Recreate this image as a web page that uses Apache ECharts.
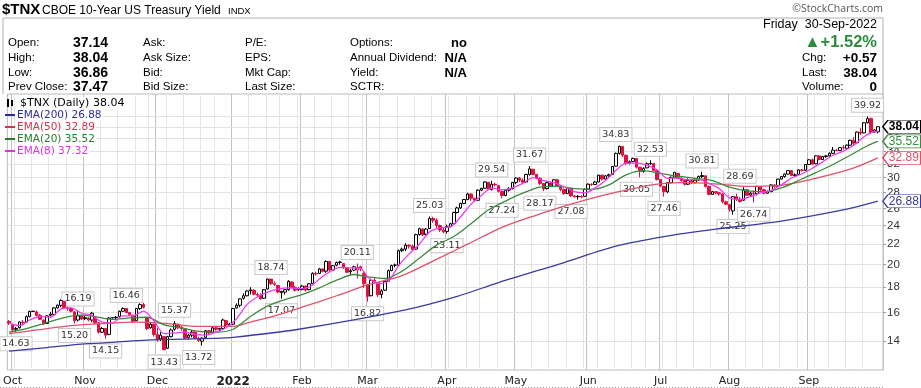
<!DOCTYPE html>
<html><head><meta charset="utf-8">
<script src="https://cdn.jsdelivr.net/npm/echarts@6/dist/echarts.min.js"></script>
<style>html,body{margin:0;padding:0;background:#fff}#c{width:921px;height:388px}</style>
</head><body><div id="c"></div>
<script>
// ---------- categories (trading days) ----------
const holidays = ['2021-11-25','2021-12-24','2022-01-17','2022-02-21','2022-04-15','2022-05-30','2022-06-20','2022-07-04','2022-09-05'];
const firstDay = '2021-09-30', lastDay = '2022-09-30';
function tradingDays(a, b) {
  const out = []; let d = new Date(a + 'T00:00:00Z'); const e = new Date(b + 'T00:00:00Z');
  while (d <= e) { const s = d.toISOString().slice(0,10); const w = d.getUTCDay();
    if (w !== 0 && w !== 6 && holidays.indexOf(s) < 0) out.push(s); d = new Date(d.getTime() + 864e5); }
  return out;
}
const dates = tradingDays(firstDay, lastDay);
const categories = dates.concat(['']);

// ---------- OHLC: [open, close, low, high] ----------
const ohlcSep21 = [[15.35,15.23,15.10,15.45]];
const ohlcOct21 = [[15.10,14.75,14.70,15.15],[14.80,14.85,14.63,14.95],[14.90,15.31,14.85,15.35],[15.30,15.25,15.05,15.45],[15.30,15.70,15.28,15.78],[15.70,16.08,15.65,16.14],[16.08,16.10,16.05,16.12],[16.05,15.78,15.70,16.15],[15.80,15.50,15.45,15.90],[15.45,15.16,15.10,15.50],[15.20,15.75,15.18,15.80],[15.80,15.88,15.72,16.05],[15.85,16.35,15.80,16.40],[16.35,16.56,16.30,16.60],[16.55,16.92,16.40,17.02],[16.85,16.35,16.25,16.90],[16.35,16.30,16.12,16.45],[16.30,16.10,16.00,16.40],[16.05,15.40,15.20,16.10],[15.45,15.75,15.35,16.19],[15.75,15.52,15.45,15.85]];
const ohlcNov21 = [[15.55,15.62,15.45,15.75],[15.60,15.45,15.35,15.65],[15.45,15.95,15.30,16.05],[15.60,15.25,15.15,15.70],[15.25,14.60,14.50,15.30],[14.60,14.85,14.55,14.95],[14.85,14.40,14.15,14.90],[14.45,15.60,14.40,15.65],[15.60,15.62,15.58,15.64],[15.62,15.65,15.45,15.75],[15.70,16.10,15.65,16.15],[16.10,16.30,16.05,16.40],[16.30,16.00,15.95,16.35],[16.00,15.85,15.75,16.05],[15.80,15.35,15.25,15.85],[15.40,16.30,15.40,16.35],[16.30,16.60,16.20,16.70],[16.60,16.40,16.30,16.75],[15.60,14.85,14.75,15.65],[14.90,15.15,14.85,15.30],[15.15,14.45,14.30,15.20]];
const ohlcDec21 = [[14.45,14.10,13.95,14.90],[14.15,14.40,14.00,14.60],[14.30,13.45,13.43,14.35],[13.55,14.30,13.50,14.35],[14.30,14.75,14.25,14.85],[14.80,15.20,14.70,15.37],[15.15,14.90,14.80,15.20],[14.95,14.85,14.70,15.05],[14.80,14.20,14.15,14.85],[14.25,14.40,14.10,14.50],[14.40,14.60,14.25,14.75],[14.60,14.20,14.15,14.75],[14.15,14.05,13.95,14.30],[14.00,14.20,13.72,14.25],[14.25,14.70,14.20,14.75],[14.70,14.55,14.45,14.75],[14.55,14.90,14.50,14.95],[14.90,14.80,14.70,14.95],[14.80,14.85,14.65,14.90],[14.85,15.45,14.80,15.55],[15.40,15.10,15.00,15.45],[15.15,15.10,14.95,15.25]];
const ohlcJan22 = [[15.15,16.30,15.10,16.35],[16.35,16.55,16.30,16.70],[16.55,17.05,16.40,17.10],[17.10,17.30,17.00,17.50],[17.30,17.69,17.25,17.75],[17.70,17.78,17.40,18.00],[17.75,17.42,17.35,17.85],[17.40,17.35,17.20,17.55],[17.35,17.05,17.00,17.50],[17.10,17.80,17.05,17.85],[17.85,18.70,17.80,18.74],[18.70,18.30,18.20,18.70],[18.30,18.25,18.10,18.50],[18.15,17.60,17.50,18.20],[17.55,17.65,17.07,17.70],[17.60,17.80,17.40,17.85],[17.80,18.50,17.70,18.60],[18.45,18.00,17.90,18.50],[18.00,17.75,17.65,18.10],[17.80,17.80,17.70,18.00]];
const ohlcFeb22 = [[17.80,18.10,17.75,18.20],[18.10,17.75,17.65,18.15],[17.80,18.30,17.75,18.35],[18.30,19.20,18.25,19.30],[19.20,19.15,19.00,19.35],[19.20,19.60,19.15,19.70],[19.60,19.40,19.30,19.65],[19.40,20.30,19.25,20.40],[20.30,19.50,19.30,20.35],[19.50,19.90,19.40,19.95],[19.95,20.20,19.85,20.30],[20.20,20.25,20.00,20.35],[20.10,19.70,19.60,20.15],[19.70,19.30,19.25,19.75],[19.35,19.45,19.10,19.60],[19.50,19.80,19.40,19.90],[19.50,19.75,18.75,20.11],[19.80,19.60,19.40,19.90],[19.20,18.30,17.95,19.30]];
const ohlcMar22 = [[18.20,17.25,16.82,18.25],[17.30,18.60,17.25,18.65],[18.60,18.50,18.30,18.80],[18.40,17.40,17.20,18.45],[17.40,17.70,17.10,17.85],[17.75,18.50,17.70,18.60],[18.50,19.45,18.45,19.55],[19.45,19.90,19.40,20.00],[19.95,19.95,19.75,20.10],[19.95,21.35,19.90,21.45],[21.35,21.50,21.20,21.65],[21.50,21.90,21.30,22.10],[21.90,21.80,21.55,22.00],[21.80,21.45,21.35,21.95],[21.50,23.00,21.45,23.10],[23.00,23.65,22.90,23.75],[23.60,23.00,22.85,23.70],[23.05,23.60,22.95,23.70],[23.65,24.80,23.60,25.03],[24.80,24.60,24.30,25.00],[24.60,24.00,23.70,24.80],[24.00,23.50,23.30,24.10],[23.50,23.30,23.15,23.80]];
const ohlcApr22 = [[23.35,23.90,23.11,24.10],[23.90,24.20,23.80,24.30],[24.20,25.50,24.10,25.60],[25.50,26.05,25.40,26.20],[26.05,26.60,25.95,26.70],[26.60,27.10,26.50,27.15],[27.10,27.80,27.00,27.95],[27.80,27.25,26.90,27.90],[27.25,27.00,26.80,27.30],[27.00,28.30,26.95,28.40],[28.30,28.55,28.15,28.60],[28.55,29.40,28.50,29.50],[29.35,28.40,28.30,29.40],[28.40,29.10,28.25,29.54],[29.10,29.00,28.80,29.30],[28.90,28.15,28.00,28.95],[28.15,27.60,27.24,28.20],[27.60,28.30,27.50,28.40],[28.30,28.50,28.10,28.70],[28.50,29.35,28.40,29.40]];
const ohlcMay22 = [[29.35,29.95,29.10,30.05],[29.95,29.65,29.40,30.10],[29.65,29.35,29.20,29.90],[29.40,30.45,29.35,30.55],[30.45,31.25,30.30,31.67],[31.20,30.45,30.35,31.25],[30.45,29.90,29.75,30.50],[29.90,29.20,28.95,30.05],[29.20,28.45,28.17,29.25],[28.50,29.30,28.40,29.40],[29.30,28.80,28.70,29.35],[28.80,29.70,28.75,29.80],[29.70,28.85,28.75,29.75],[28.85,28.40,28.15,28.95],[28.40,27.85,27.70,28.50],[27.85,28.55,27.80,28.65],[28.55,27.55,27.40,28.60],[27.55,27.45,27.30,27.65],[27.45,27.50,27.08,27.65],[27.50,27.40,27.25,27.60],[27.50,28.40,27.45,28.50]];
const ohlcJun22 = [[28.45,29.10,28.40,29.20],[29.10,29.05,28.85,29.20],[29.05,29.40,29.00,29.55],[29.40,30.35,29.35,30.40],[30.35,29.80,29.60,30.40],[29.80,30.25,29.75,30.35],[30.25,30.40,30.10,30.55],[30.45,31.60,30.40,31.70],[31.65,33.60,31.60,33.70],[33.60,34.70,33.40,34.83],[34.70,33.30,33.00,34.75],[33.30,32.10,31.80,33.40],[32.10,32.30,31.90,32.50],[32.35,32.80,32.20,32.95],[32.80,31.50,31.30,32.85],[31.50,30.90,30.05,31.55],[30.90,31.30,30.70,31.50],[31.40,32.00,31.35,32.20],[32.00,32.05,31.85,32.53],[32.05,31.00,30.95,32.10],[31.00,29.75,29.60,31.05]];
const ohlcJul22 = [[29.75,28.85,28.70,29.80],[28.80,28.10,27.46,28.85],[28.10,29.30,27.90,29.40],[29.30,30.05,29.20,30.15],[30.05,30.75,29.90,30.80],[30.60,29.90,29.80,30.65],[29.90,29.60,29.45,30.05],[29.60,29.10,28.90,29.80],[29.10,29.60,29.00,29.90],[29.60,29.30,29.10,29.75],[29.30,29.65,29.20,29.90],[29.65,30.15,29.60,30.30],[30.15,30.30,29.95,30.81],[30.25,28.80,28.65,30.30],[28.80,27.75,27.65,28.90],[27.75,28.10,27.70,28.20],[28.10,27.95,27.75,28.15],[27.95,27.80,27.60,28.10],[27.80,26.80,26.60,27.90],[26.80,26.50,26.40,26.95]];
const ohlcAug22 = [[26.45,25.90,25.60,26.55],[25.70,27.45,25.25,27.50],[27.45,27.10,26.90,27.85],[27.10,26.85,26.70,27.40],[27.00,28.35,26.95,28.69],[28.35,27.65,27.55,28.45],[27.65,27.90,27.55,28.10],[27.90,27.85,26.74,28.25],[27.85,28.80,27.60,28.90],[28.80,28.35,28.20,28.85],[28.35,27.90,27.75,28.50],[27.90,28.10,27.85,28.25],[28.10,29.00,28.05,29.10],[29.00,28.80,28.65,29.10],[28.80,29.80,28.75,29.85],[29.80,30.15,29.75,30.25],[30.15,30.50,30.00,30.60],[30.50,31.00,30.40,31.05],[31.00,30.30,30.20,31.05],[30.30,30.40,30.10,30.60],[30.45,31.10,30.40,31.20],[31.10,31.05,30.85,31.25],[31.05,31.90,30.95,31.95]];
const ohlcSep22 = [[31.90,32.60,31.80,32.70],[32.60,31.95,31.80,32.80],[32.00,33.20,31.95,33.30],[33.20,32.65,32.50,33.30],[32.65,33.10,32.60,33.20],[33.10,33.20,32.90,33.35],[33.20,33.60,33.10,33.75],[33.60,34.10,33.45,34.60],[34.10,34.05,33.90,34.25],[34.05,34.50,33.95,34.60],[34.50,34.45,34.20,34.90],[34.40,34.90,34.30,35.00],[34.90,35.70,34.80,35.80],[35.70,35.20,34.90,36.20],[35.30,37.10,35.20,37.20],[37.10,36.90,36.60,37.80],[36.95,38.75,36.90,38.85],[38.75,39.50,38.60,39.92],[39.50,37.00,36.80,39.70],[37.10,37.47,36.95,37.65],[37.14,38.04,36.86,38.04]];
const candles = [].concat(ohlcSep21, ohlcOct21, ohlcNov21, ohlcDec21, ohlcJan22, ohlcFeb22, ohlcMar22, ohlcApr22, ohlcMay22, ohlcJun22, ohlcJul22, ohlcAug22, ohlcSep22);

// ---------- moving averages: [date, value] ----------
const ema200 = [['2021-09-30',13.37],['2021-10-15',13.59],['2021-10-29',13.81],['2021-11-11',13.92],['2021-11-26',14.07],['2021-12-10',14.13],['2021-12-23',14.18],['2022-01-03',14.25],['2022-01-31',14.80],['2022-03-16',16.20],['2022-04-06',17.25],['2022-04-25',18.40],['2022-05-20',20.20],['2022-06-13',21.80],['2022-07-05',22.80],['2022-07-26',23.60],['2022-08-22',24.50],['2022-09-19',25.90],['2022-09-30',26.88]];
const ema50 = [['2021-09-30',14.50],['2021-10-12',14.75],['2021-10-26',15.05],['2021-11-08',15.20],['2021-11-22',15.30],['2021-12-06',15.20],['2021-12-17',15.00],['2022-01-03',15.00],['2022-01-10',15.30],['2022-01-20',15.75],['2022-02-01',16.40],['2022-02-15',17.30],['2022-03-01',18.20],['2022-03-15',19.00],['2022-03-29',20.50],['2022-04-11',22.00],['2022-04-26',23.80],['2022-05-10',25.20],['2022-05-23',26.40],['2022-06-07',27.60],['2022-06-21',28.50],['2022-06-30',29.10],['2022-07-13',29.30],['2022-07-27',29.10],['2022-08-08',28.80],['2022-08-19',28.90],['2022-09-02',29.80],['2022-09-20',31.20],['2022-09-30',32.89]];
const ema20 = [['2021-09-30',14.60],['2021-10-07',14.85],['2021-10-14',15.20],['2021-10-21',15.55],['2021-10-28',15.80],['2021-11-04',15.70],['2021-11-11',15.50],['2021-11-18',15.60],['2021-11-26',15.65],['2021-12-03',15.10],['2021-12-10',14.90],['2021-12-17',14.65],['2021-12-27',14.60],['2022-01-03',14.80],['2022-01-10',15.70],['2022-01-18',16.50],['2022-01-25',17.00],['2022-02-01',17.40],['2022-02-08',17.95],['2022-02-15',18.60],['2022-02-23',19.10],['2022-03-01',18.90],['2022-03-08',18.75],['2022-03-15',19.40],['2022-03-22',20.60],['2022-03-29',21.90],['2022-04-05',22.80],['2022-04-12',24.20],['2022-04-20',25.80],['2022-04-27',26.90],['2022-05-04',27.90],['2022-05-11',28.70],['2022-05-18',28.80],['2022-05-25',28.50],['2022-06-02',28.40],['2022-06-09',29.00],['2022-06-16',30.40],['2022-06-24',31.00],['2022-07-01',30.60],['2022-07-11',30.20],['2022-07-18',29.90],['2022-07-25',29.60],['2022-08-01',28.70],['2022-08-08',28.20],['2022-08-15',28.10],['2022-08-22',28.60],['2022-08-29',29.60],['2022-09-06',30.70],['2022-09-13',31.90],['2022-09-20',33.30],['2022-09-27',34.80],['2022-09-30',35.52]];
const ema8 = [['2021-09-30',15.25],['2021-10-05',15.05],['2021-10-08',15.45],['2021-10-13',15.70],['2021-10-18',15.65],['2021-10-21',16.25],['2021-10-26',16.35],['2021-10-29',15.95],['2021-11-03',15.80],['2021-11-08',15.30],['2021-11-11',15.25],['2021-11-16',15.75],['2021-11-19',15.75],['2021-11-24',16.10],['2021-11-30',15.40],['2021-12-03',14.50],['2021-12-08',14.55],['2021-12-13',14.60],['2021-12-16',14.45],['2021-12-21',14.40],['2021-12-27',14.60],['2021-12-30',14.90],['2022-01-04',15.55],['2022-01-07',16.60],['2022-01-12',17.20],['2022-01-18',17.60],['2022-01-21',17.85],['2022-01-26',17.95],['2022-01-31',17.90],['2022-02-03',18.00],['2022-02-08',18.70],['2022-02-11',19.35],['2022-02-16',19.75],['2022-02-22',19.70],['2022-02-25',19.65],['2022-03-01',18.90],['2022-03-04',18.30],['2022-03-09',18.50],['2022-03-14',19.90],['2022-03-17',21.00],['2022-03-22',22.00],['2022-03-25',23.30],['2022-03-30',23.75],['2022-04-04',23.85],['2022-04-07',25.00],['2022-04-12',26.50],['2022-04-18',27.60],['2022-04-21',28.60],['2022-04-26',28.35],['2022-04-29',28.60],['2022-05-04',29.20],['2022-05-09',30.00],['2022-05-12',29.60],['2022-05-17',29.30],['2022-05-20',28.75],['2022-05-25',28.10],['2022-05-31',27.95],['2022-06-03',28.60],['2022-06-08',29.60],['2022-06-13',31.00],['2022-06-16',32.10],['2022-06-22',32.10],['2022-06-27',31.80],['2022-06-30',31.10],['2022-07-06',29.90],['2022-07-11',29.95],['2022-07-14',29.70],['2022-07-19',29.75],['2022-07-22',29.20],['2022-07-27',28.50],['2022-08-01',27.30],['2022-08-04',27.10],['2022-08-09',27.45],['2022-08-12',27.95],['2022-08-17',28.25],['2022-08-22',29.00],['2022-08-25',29.95],['2022-08-30',30.55],['2022-09-02',31.35],['2022-09-08',32.30],['2022-09-13',33.30],['2022-09-16',33.95],['2022-09-21',34.90],['2022-09-26',36.30],['2022-09-28',37.00],['2022-09-30',37.32]];

// ---------- pivot annotations ----------
const pivotDates  = ['2021-10-04','2021-10-28','2021-10-27','2021-11-09','2021-11-17','2021-12-08','2021-12-03','2021-12-17','2022-01-19','2022-01-24','2022-02-24','2022-03-01','2022-03-25','2022-04-01','2022-04-21','2022-04-26','2022-05-06','2022-05-11','2022-05-24','2022-06-13','2022-06-28','2022-06-22','2022-07-05','2022-07-20','2022-08-04','2022-08-02','2022-08-10','2022-09-27'];
const pivotValues = [14.63,16.19,15.20,14.15,16.46,15.37,13.43,13.72,18.74,17.07,20.11,16.82,25.03,23.11,29.54,27.24,31.67,28.17,27.08,34.83,32.53,30.05,27.46,30.81,28.69,25.25,26.74,39.92];
const pivotSide   = ['L','H','L','L','H','H','L','L','H','L','H','L','H','L','H','L','H','L','L','H','H','L','L','H','H','L','L','H'];

// ---------- axis ticks / texts ----------
const yTicks = [14,16,18,20,22,24,26,28,30,32,34,36,38,40];
const monthNames = ['Jan','Feb','Mar','Apr','May','Jun','Jul','Aug','Sep','Oct','Nov','Dec'];
const lastValues = {close:38.04, ema200:26.88, ema50:32.89, ema20:35.52, ema8:37.32};
const quoteRows = [['Open:','37.14','Ask:','P/E:','Options:','no'],['High:','38.04','Ask Size:','EPS:','Annual Dividend:','N/A'],['Low:','36.86','Bid:','Mkt Cap:','Yield:','N/A'],['Prev Close:','37.47','Bid Size:','Last Size:','SCTR:','']];
const quoteRight = [['Chg:','+0.57'],['Last:','38.04'],['Volume:','0']];
const legendRows = [['$TNX (Daily) 38.04','#000000'],['EMA(200) 26.88','#2b2b96'],['EMA(50) 32.89','#d8304c'],['EMA(20) 35.52','#2a7a2a'],['EMA(8) 37.32','#e030e0']];

const C_RED = '#e0103f', C_BLACK = '#000000';
const COL = {ema200:'#3a3aa0', ema50:'#e0526a', ema20:'#3b8a3b', ema8:'#f03cf0'};

function isMonthStart(k){ return k > 0 && k < dates.length && dates[k].slice(5,7) !== dates[k-1].slice(5,7); }
function isWeekStart(k){
  if (k === 0 || k >= dates.length) return false;
  const a = new Date(dates[k-1]+'T00:00:00Z'), b = new Date(dates[k]+'T00:00:00Z');
  return b.getUTCDay() < a.getUTCDay() || (b - a) >= 7*864e5;
}

const candleData = candles.map((d, k) => {
  const prev = k > 0 ? candles[k-1][1] : d[0];
  const col = d[1] >= prev ? C_BLACK : C_RED;
  const fill = d[1] > d[0] ? '#ffffff' : col;
  return {value: d, itemStyle: {color: fill, color0: fill, borderColor: col, borderColor0: col, borderWidth: 1}};
});

const tagPath = 'path://M0,6 L5,0 L38,0 L38,12 L5,12 Z';
function tag(date, value, color, bold){
  return {coord:[date, value], value: value.toFixed(2), symbol: tagPath, symbolSize:[38,13], symbolKeepAspect:false, symbolOffset:[24,0],
    itemStyle:{color:'#fff', borderColor:color, borderWidth:1},
    label:{show:true, position:'inside', offset:[2,0], color: bold ? '#000' : color, fontSize:12, fontWeight: bold?'bold':'normal', fontFamily:'Liberation Sans, Arial', formatter: value.toFixed(2)}};
}

function emaSeries(name, data, color, lastV){
  const s = {name, type:'line', data, showSymbol:false, smooth:0.3, z:6, clip:false, silent:true,
    lineStyle:{color, width:1.3}, animation:false};
  if (lastV !== null) s.markPoint = {silent:true, animation:false, data:[tag(lastDay, lastV, color, false)]};
  return s;
}

const chart = echarts.init(document.getElementById('c'));
const pivotMarks = pivotDates.map((d,i) => ({coord:[d, pivotValues[i]], value: pivotValues[i].toFixed(2), symbol:'rect', symbolSize:0,
  label:{show:true, position:'inside', offset:[0, pivotSide[i]==='H' ? -11 : 12], formatter: pivotValues[i].toFixed(2),
    fontSize:9.5, fontFamily:'DejaVu Sans', color:'#333', backgroundColor:'#fff', borderColor:'#c8c8c8', borderWidth:1, padding:[2,2,1,2]}}));

const T = (text, x, y, opt) => Object.assign({type:'text', x, y, silent:true, z:100, style: Object.assign({text, fill:'#000', fontSize:11.5, fontFamily:'Liberation Sans, Arial', textVerticalAlign:'middle'}, opt||{})});
const header = [];
header.push(T('$TNX', 2, 10, {fontSize:15, fontWeight:'bold'}));
header.push(T('CBOE 10-Year US Treasury Yield', 42, 11, {fontSize:12}));
header.push(T('INDX', 228, 11, {fontSize:9.5}));
header.push(T('\u00A9StockCharts.com', 883, 9, {fontSize:10.5, fontFamily:'Open Sans', fill:'#555', textAlign:'right'}));
const rowY = [43, 58, 73, 87];
quoteRows.forEach((r, i) => {
  header.push(T(r[0], 8, rowY[i]));
  header.push(T(r[1], 73, rowY[i], {fontWeight:'bold', fontSize:14}));
  header.push(T(r[2], 143, rowY[i]));
  header.push(T(r[3], 245, rowY[i]));
  header.push(T(r[4], 350, rowY[i]));
  header.push(T(r[5], 467, rowY[i], {fontWeight:'bold', fontSize:13, textAlign:'right'}));
});
header.push(T('Friday  30-Sep-2022', 877, 25, {fontSize:12.5, textAlign:'right'}));
header.push(T('\u25B2+1.52%', 877, 42, {fontSize:16.5, fontWeight:'bold', fill:'#2e8b3e', textAlign:'right'}));
quoteRight.forEach((r, i) => {
  header.push(T(r[0], 802, rowY[i+1]));
  header.push(T(r[1], 877, rowY[i+1], {fontWeight:'bold', fontSize:13.5, textAlign:'right'}));
});
header.push({type:'polyline', silent:true, shape:{points:[[3,94],[3,18],[883,18],[883,94]]}, style:{stroke:'#b0b0b0', fill:null, lineWidth:1}});
// in-chart legend
const legY = [103, 115, 127, 139, 151];
legendRows.forEach((r, i) => {
  header.push(T(r[0], i===0 ? 19 : 16, legY[i], {fill:r[1], fontSize: i===0 ? 11 : 10.5, fontFamily:'DejaVu Sans', backgroundColor:'#ffffff', padding:[0,1,0,1]}));
  if (i > 0) header.push({type:'line', silent:true, z:100, shape:{x1:5,y1:legY[i],x2:15,y2:legY[i]}, style:{stroke:r[1], lineWidth:2}});
});
header.push({type:'rect', silent:true, z:100, shape:{x:7,y:99,width:2,height:8}, style:{fill:'#000'}});
header.push({type:'rect', silent:true, z:100, shape:{x:11,y:100,width:2,height:6}, style:{fill:'#000'}});
header.push({type:'line', silent:true, shape:{x1:0,y1:387.5,x2:884,y2:387.5}, style:{stroke:'#999', lineWidth:1, lineDash:[1,2]}});

chart.setOption({
  animation:false,
  backgroundColor:'#fff',
  grid:{left:4, right:38, top:94, bottom:17, show:true, borderColor:'#b8b8b8', borderWidth:1, backgroundColor:'#fff'},
  xAxis:[
    {type:'category', data:categories, boundaryGap:true, axisLine:{show:false}, axisTick:{show:false},
      splitLine:{show:true, interval:(k)=>isWeekStart(k), lineStyle:{color:'#e6e6e6', width:1}},
      axisLabel:{interval:(k)=>isMonthStart(k), margin:6, fontSize:11, fontFamily:'DejaVu Sans', color:'#222',
        formatter:(v)=>{ if(!v) return ''; const m = +v.slice(5,7); return m===1 ? '{b|'+v.slice(0,4)+'}' : monthNames[m-1]; },
        rich:{b:{fontWeight:'bold', fontSize:12, fontFamily:'DejaVu Sans', color:'#222'}}}},
    {type:'category', data:categories, boundaryGap:true, axisLine:{show:false}, axisTick:{show:false}, axisLabel:{show:false},
      splitLine:{show:true, interval:(k)=>isMonthStart(k), lineStyle:{color:'#c2c2c2', width:1}}}
  ],
  yAxis:{type:'log', logBase:10, position:'right', min:12.24, max:44.3, scale:true,
    axisLine:{show:false}, splitLine:{show:false}, minorSplitLine:{show:false},
    axisTick:{show:true, customValues:yTicks, length:3, inside:false, lineStyle:{color:'#999'}},
    axisLabel:{customValues:yTicks, margin:4, fontSize:11.5, fontFamily:'Liberation Sans, Arial', color:'#333', formatter:(v)=>String(Math.round(v))}},
  graphic:{elements:header},
  series:[
    {type:'line', data:[], z:1, silent:true, markLine:{silent:true, symbol:['none','none'], animation:false, label:{show:false},
      lineStyle:{color:'#e2e2e2', width:1, type:'solid'}, data:yTicks.map(v=>({yAxis:v}))}},
    emaSeries('EMA200', ema200, COL.ema200, lastValues.ema200),
    emaSeries('EMA50', ema50, COL.ema50, lastValues.ema50),
    emaSeries('EMA20', ema20, COL.ema20, lastValues.ema20),
    {type:'candlestick', data:candleData, barWidth:3, z:5, clip:false, silent:true,
      markPoint:{silent:true, animation:false, data: pivotMarks.concat([tag(lastDay, lastValues.close, '#000', true)])}},
    emaSeries('EMA8', ema8, COL.ema8, null)
  ]
});
</script></body></html>
